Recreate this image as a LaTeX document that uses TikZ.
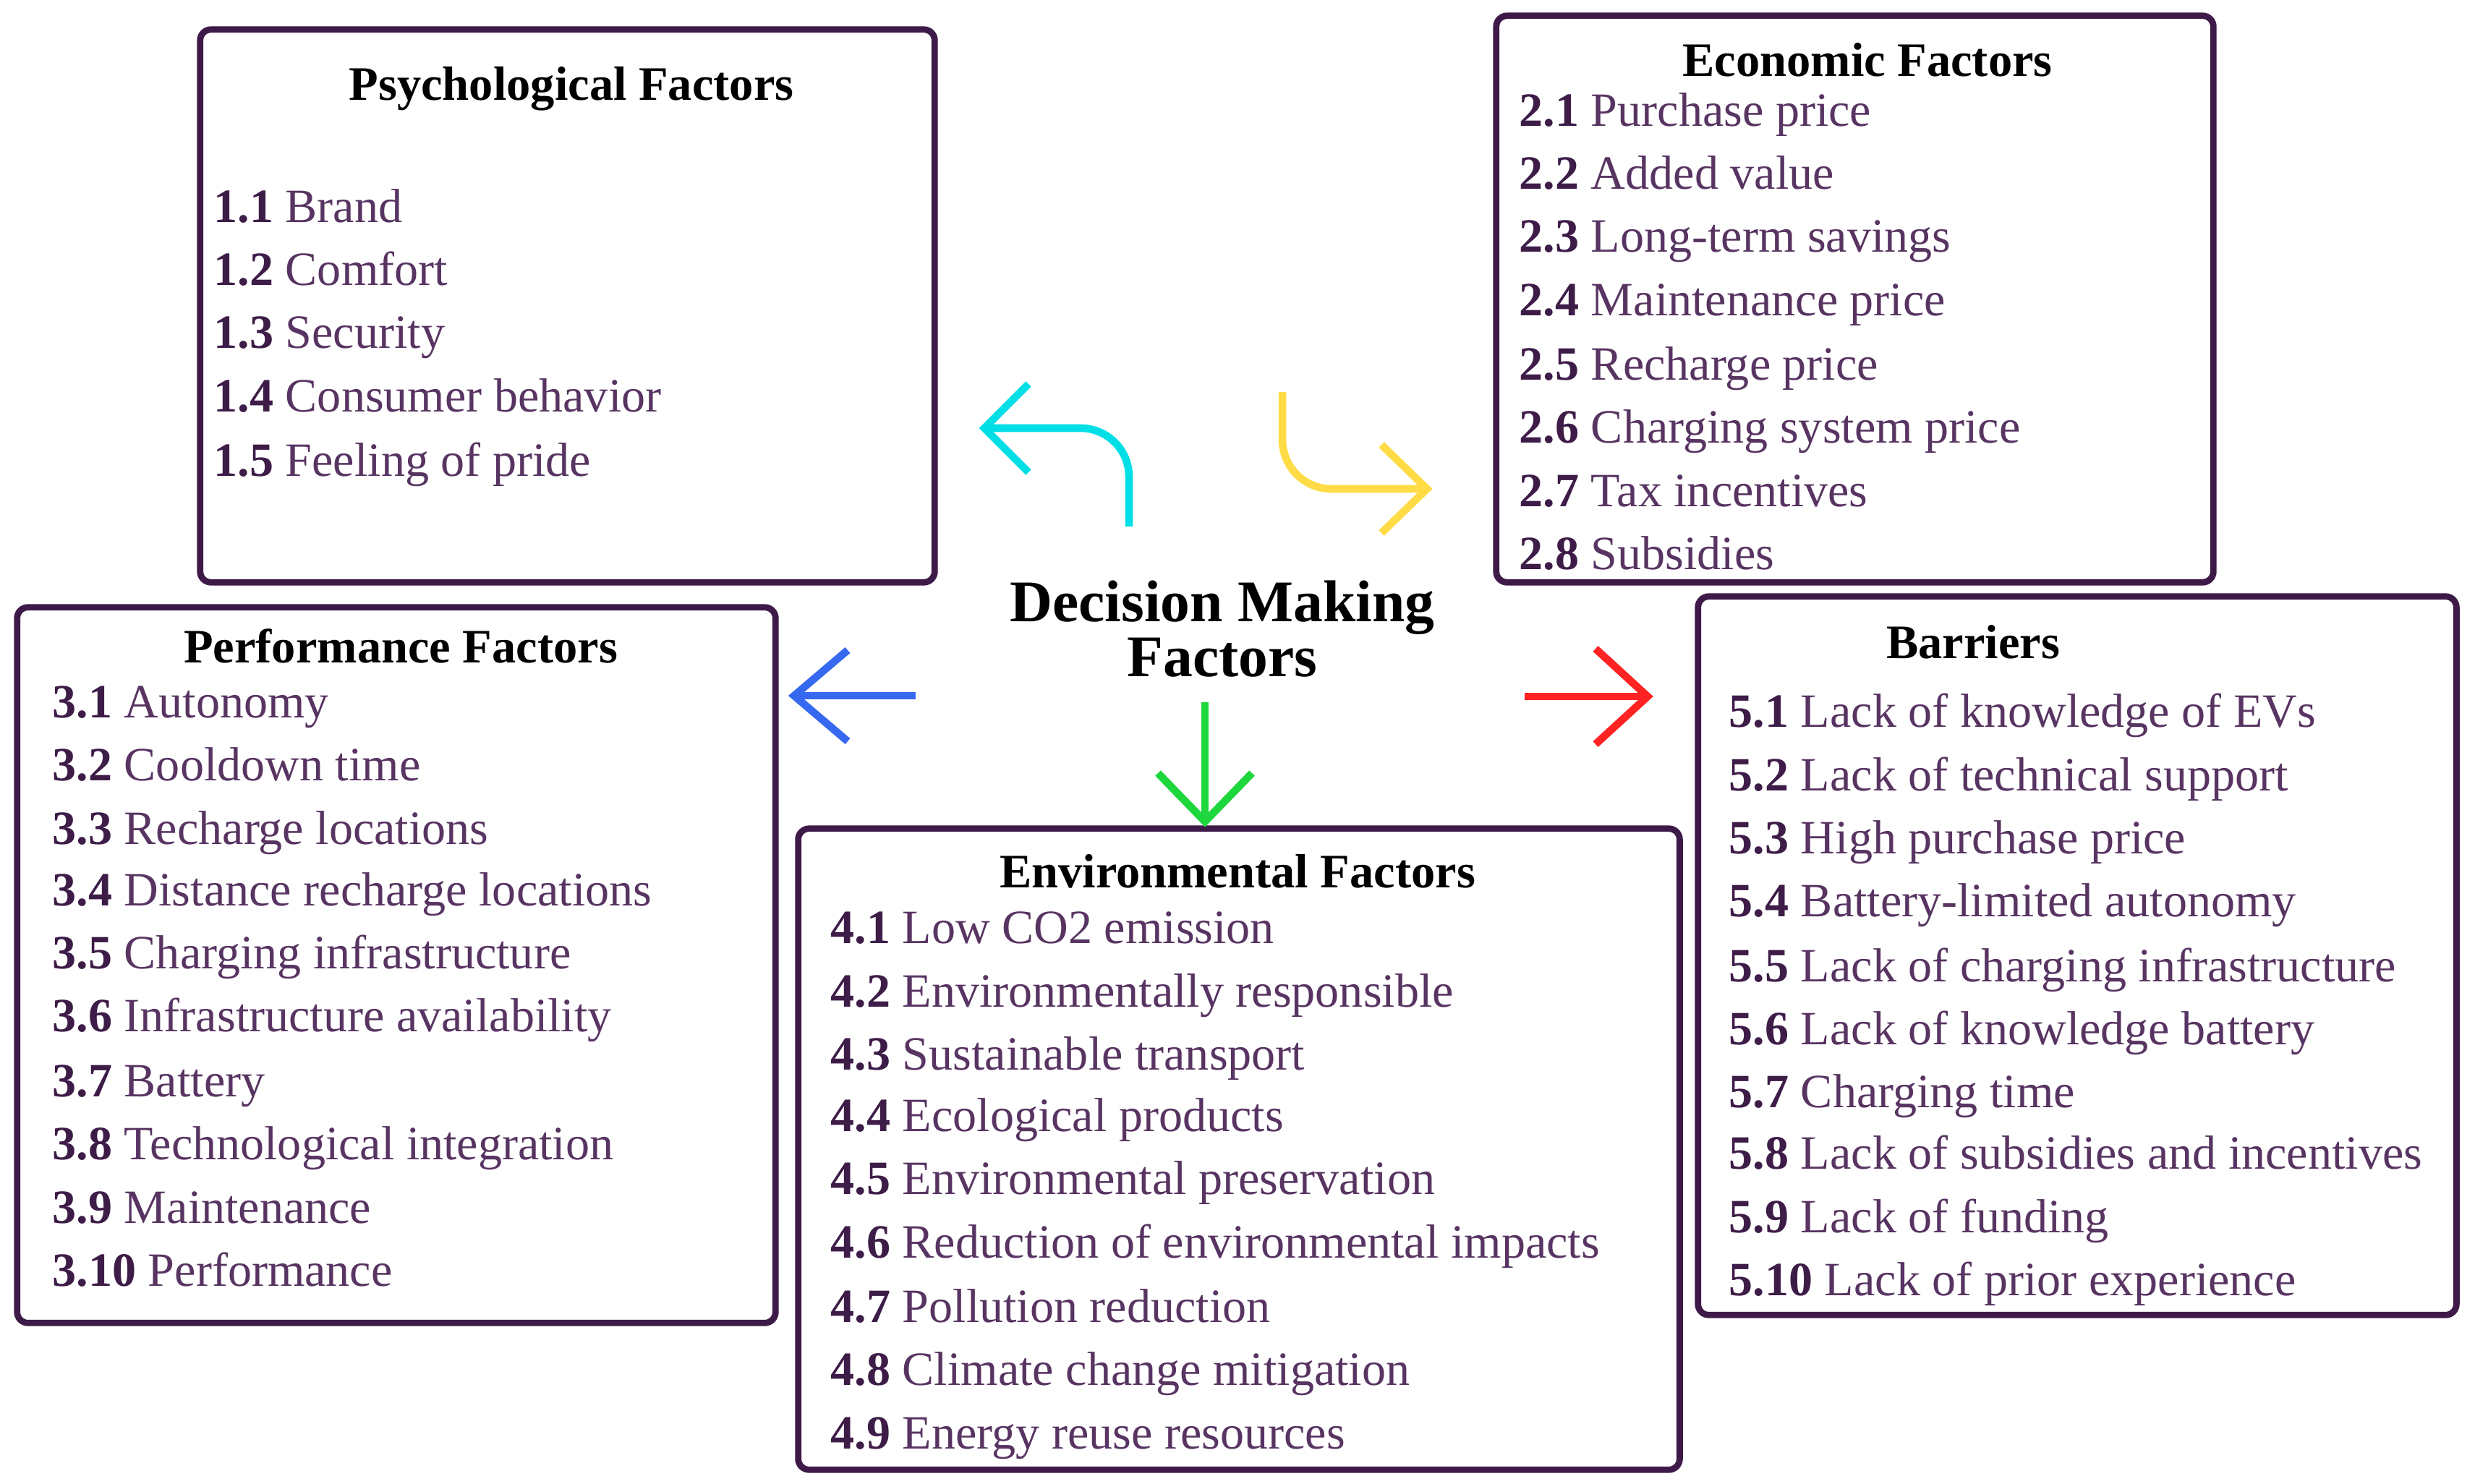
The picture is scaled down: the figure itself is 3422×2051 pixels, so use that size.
\documentclass[tikz,border=0pt]{standalone}
\usepackage{fontspec}
\setmainfont{Liberation Serif}
\definecolor{boxcol}{RGB}{62,26,72}
\definecolor{itemcol}{RGB}{88,52,98}
\definecolor{numcol}{RGB}{62,28,72}
\definecolor{cyanarr}{RGB}{0,222,230}
\definecolor{yelarr}{RGB}{255,220,70}
\definecolor{grnarr}{RGB}{30,215,60}
\definecolor{redarr}{RGB}{255,35,35}
\definecolor{bluarr}{RGB}{55,105,240}
\newcommand{\nm}[1]{\textbf{\color{numcol}#1}}
\begin{document}
\begin{tikzpicture}[x=0.01cm,y=-0.01cm,
  box/.style={draw=boxcol, line width=2.5pt, rounded corners=0.15cm, fill=white, inner sep=0pt},
  ttl/.style={font=\fontsize{18.9}{22}\selectfont\bfseries, text=black},
  itm/.style={anchor=mid west, inner sep=0pt, yshift=-0.13cm, text=itemcol, font=\fontsize{18.8}{22}\selectfont},
  arr/.style={line width=3pt, line cap=butt, line join=miter},
  center/.style={font=\fontsize{23.2}{21.6}\selectfont\bfseries, align=center, text=black}]
\useasboundingbox (0,0) rectangle (3422,2051);
\fill[white] (0,0) rectangle (3422,2051);

% boxes
\node[box, minimum width=10.15cm, minimum height=7.64cm] (psy) at (784.5,423) {};
\node[box, minimum width=9.91cm, minimum height=7.83cm] (eco) at (2564.5,413.5) {};
\node[box, minimum width=10.48cm, minimum height=9.89cm] (per) at (548,1334.5) {};
\node[box, minimum width=12.18cm, minimum height=8.86cm] (env) at (1713,1589) {};
\node[box, minimum width=10.48cm, minimum height=9.93cm] (bar) at (2872,1321.5) {};

% titles
\node[ttl] (tpsy) at (790,123) {Psychological Factors};
\node[ttl] (teco) at (2582,83) {Economic Factors};
\node[ttl] (tper) at (554,893) {Performance Factors};
\node[ttl] (tenv) at (1711,1205) {Environmental Factors};
\node[ttl] (tbar) at (2728,888) {Barriers};
\node[center] (dmf) at (1690,870) {Decision Making\\Factors};

% psychological
\node[itm] (p1) at (295,286) {\nm{1.1} Brand};
\node[itm] (p2) at (295,373) {\nm{1.2} Comfort};
\node[itm] (p3) at (295,460) {\nm{1.3} Security};
\node[itm] (p4) at (295,548) {\nm{1.4} Consumer behavior};
\node[itm] (p5) at (295,637) {\nm{1.5} Feeling of pride};

% economic
\node[itm] (e1) at (2100,153) {\nm{2.1} Purchase price};
\node[itm] (e2) at (2100,240) {\nm{2.2} Added value};
\node[itm] (e3) at (2100,327) {\nm{2.3} Long-term savings};
\node[itm] (e4) at (2100,415) {\nm{2.4} Maintenance price};
\node[itm] (e5) at (2100,504) {\nm{2.5} Recharge price};
\node[itm] (e6) at (2100,591) {\nm{2.6} Charging system price};
\node[itm] (e7) at (2100,679) {\nm{2.7} Tax incentives};
\node[itm] (e8) at (2100,766) {\nm{2.8} Subsidies};

% performance
\node[itm] (f1) at (72,971) {\nm{3.1} Autonomy};
\node[itm] (f2) at (72,1058) {\nm{3.2} Cooldown time};
\node[itm] (f3) at (72,1146) {\nm{3.3} Recharge locations};
\node[itm] (f4) at (72,1231) {\nm{3.4} Distance recharge locations};
\node[itm] (f5) at (72,1318) {\nm{3.5} Charging infrastructure};
\node[itm] (f6) at (72,1405) {\nm{3.6} Infrastructure availability};
\node[itm] (f7) at (72,1495) {\nm{3.7} Battery};
\node[itm] (f8) at (72,1582) {\nm{3.8} Technological integration};
\node[itm] (f9) at (72,1670) {\nm{3.9} Maintenance};
\node[itm] (f10) at (72,1757) {\nm{3.10} Performance};

% environmental
\node[itm] (v1) at (1148,1283) {\nm{4.1} Low CO2 emission};
\node[itm] (v2) at (1148,1371) {\nm{4.2} Environmentally responsible};
\node[itm] (v3) at (1148,1458) {\nm{4.3} Sustainable transport};
\node[itm] (v4) at (1148,1543) {\nm{4.4} Ecological products};
\node[itm] (v5) at (1148,1630) {\nm{4.5} Environmental preservation};
\node[itm] (v6) at (1148,1718) {\nm{4.6} Reduction of environmental impacts};
\node[itm] (v7) at (1148,1807) {\nm{4.7} Pollution reduction};
\node[itm] (v8) at (1148,1894) {\nm{4.8} Climate change mitigation};
\node[itm] (v9) at (1148,1982) {\nm{4.9} Energy reuse resources};

% barriers
\node[itm] (b1) at (2390,984) {\nm{5.1} Lack of knowledge of EVs};
\node[itm] (b2) at (2390,1072) {\nm{5.2} Lack of technical support};
\node[itm] (b3) at (2390,1159) {\nm{5.3} High purchase price};
\node[itm] (b4) at (2390,1246) {\nm{5.4} Battery-limited autonomy};
\node[itm] (b5) at (2390,1336) {\nm{5.5} Lack of charging infrastructure};
\node[itm] (b6) at (2390,1423) {\nm{5.6} Lack of knowledge battery};
\node[itm] (b7) at (2390,1510) {\nm{5.7} Charging time};
\node[itm] (b8) at (2390,1595) {\nm{5.8} Lack of subsidies and incentives};
\node[itm] (b9) at (2390,1683) {\nm{5.9} Lack of funding};
\node[itm] (b10) at (2390,1770) {\nm{5.10} Lack of prior experience};

% arrows
\coordinate (cS) at (1561,728); \coordinate (cK) at (1561,592); \coordinate (cT) at (1361,592);
\draw[arr, cyanarr, rounded corners=0.67cm] (cS) -- (cK) -- (cT);
\draw[arr, cyanarr] (1422,531) -- (cT) -- (1422,653);

\coordinate (yS) at (1773,542); \coordinate (yK) at (1773,676); \coordinate (yT) at (1973,676);
\draw[arr, yelarr, rounded corners=0.68cm] (yS) -- (yK) -- (yT);
\draw[arr, yelarr] (1910,615) -- (yT) -- (1910,737);

\coordinate (gS) at (1666,971); \coordinate (gT) at (1666,1136);
\draw[arr, grnarr] (gS) -- (gT);
\draw[arr, grnarr] (1601,1069) -- (gT) -- (1731,1069);

\coordinate (rS) at (2108,963); \coordinate (rT) at (2278,963);
\draw[arr, redarr] (rS) -- (rT);
\draw[arr, redarr] (2206,897) -- (rT) -- (2206,1029);

\coordinate (bS) at (1266,962); \coordinate (bT) at (1098,962);
\draw[arr, bluarr] (bS) -- (bT);
\draw[arr, bluarr] (1172,899) -- (bT) -- (1172,1025);
\end{tikzpicture}
\end{document}
